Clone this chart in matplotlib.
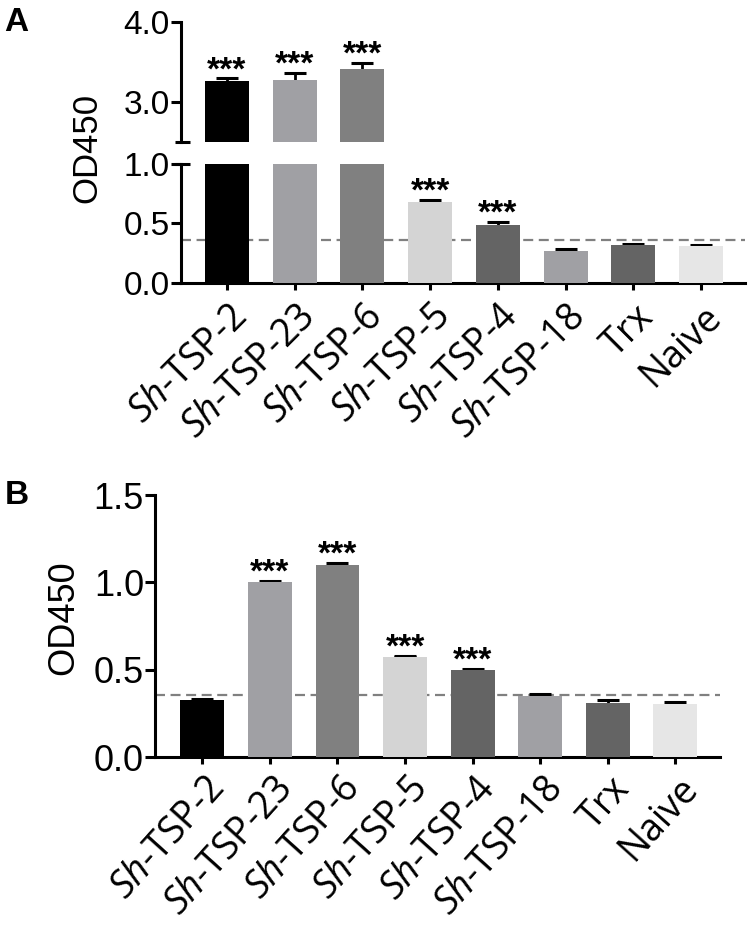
import matplotlib
matplotlib.use('Agg')
import matplotlib.pyplot as plt
from matplotlib.transforms import ScaledTranslation

plt.rcParams['font.family'] = ['Liberation Sans', 'DejaVu Sans']
plt.rcParams['mathtext.fontset'] = 'custom'
plt.rcParams['mathtext.rm'] = 'Open Sans'
plt.rcParams['mathtext.it'] = 'Open Sans:italic'

# data
groups = [r'$\mathit{Sh}$-TSP-2', r'$\mathit{Sh}$-TSP-23', r'$\mathit{Sh}$-TSP-6',
          r'$\mathit{Sh}$-TSP-5', r'$\mathit{Sh}$-TSP-4', r'$\mathit{Sh}$-TSP-18',
          'Trx', 'Naive']
colors = ['#000000', '#a0a0a4', '#808080', '#d4d4d4', '#646464', '#a0a0a4', '#646464', '#e6e6e6']

vals_a = [3.26, 3.27, 3.41, 0.68, 0.49, 0.27, 0.315, 0.31]
errs_a = [0.035, 0.095, 0.08, 0.02, 0.02, 0.012, 0.012, 0.006]
stars_a = ['***', '***', '***', '***', '***', '', '', '']
cutoff_a = 0.36

vals_b = [0.325, 1.0, 1.10, 0.575, 0.50, 0.35, 0.31, 0.305]
errs_b = [0.005, 0.01, 0.012, 0.005, 0.006, 0.008, 0.015, 0.01]
stars_b = ['', '***', '***', '***', '***', '', '', '']
cutoff_b = 0.355

SPW = 2.2
x = list(range(len(groups)))


def style_axis(ax, fs):
    for s in ['top', 'right']:
        ax.spines[s].set_visible(False)
    for s in ['left', 'bottom']:
        ax.spines[s].set_linewidth(SPW)
    ax.tick_params(axis='y', width=SPW, length=7, labelsize=fs, pad=1)
    ax.tick_params(axis='x', width=SPW, length=5, pad=2)


def draw_bars(ax, vals, errs, stars, cutoff, bottom=0):
    ax.axhline(cutoff, color='#808080', lw=1.6, dashes=(4.5, 2.5), zorder=1)
    ax.errorbar(x, vals, yerr=errs, fmt='none', ecolor='black', elinewidth=2,
                capsize=8, capthick=2.2, zorder=2)
    heights = [v - bottom for v in vals]
    ax.bar(x, heights, bottom=bottom, width=0.65, color=colors, zorder=3)
    for i, s in enumerate(stars):
        if s and bottom <= vals[i] + errs[i] <= ax.get_ylim()[1]:
            ax.annotate(s, (i, vals[i] + errs[i]), xytext=(0, -0.5), textcoords='offset points',
                        ha='center', va='baseline', fontsize=24, fontweight='bold', zorder=4)


def set_xlabels(ax, rot, dx, dy):
    ax.set_xticks(x)
    ax.set_xticklabels(groups, rotation=rot, ha='right', rotation_mode='anchor',
                       fontsize=27, family='Open Sans')
    off = ScaledTranslation(dx / 100, dy / 100, fig.dpi_scale_trans)
    for lab in ax.get_xticklabels():
        lab.set_transform(lab.get_transform() + off)


fig = plt.figure(figsize=(7.5, 9.25), dpi=100)

# panel A, broken axis
ax_top = fig.add_axes([0.2413, 0.8465, 0.752, 0.1297])
ax_bot = fig.add_axes([0.2413, 0.6941, 0.752, 0.1286])

ax_top.set_ylim(2.5, 4.0)
ax_top.set_xlim(-0.68, 7.65)
ax_bot.set_ylim(0, 1.0)
ax_bot.set_xlim(-0.68, 7.65)

draw_bars(ax_top, vals_a, errs_a, stars_a, cutoff_a, bottom=2.5)
draw_bars(ax_bot, vals_a, errs_a, stars_a, cutoff_a)

style_axis(ax_top, 24)
style_axis(ax_bot, 24)
ax_top.spines['bottom'].set_visible(False)
ax_top.set_xticks([])
ax_top.set_yticks([3.0, 4.0])
ax_top.set_yticklabels(['3.0', '4.0'])
ax_bot.set_yticks([0.0, 0.5, 1.0])
ax_bot.set_yticklabels(['0.0', '0.5', '1.0'])
set_xlabels(ax_bot, 45, 1, -5)

# break marks on the y axis
ax_top.plot([-0.011, 0.016], [0, 0], transform=ax_top.transAxes, color='black',
            lw=SPW, clip_on=False, solid_capstyle='butt')
ax_bot.plot([-0.011, 0.016], [1, 1], transform=ax_bot.transAxes, color='black',
            lw=SPW, clip_on=False, solid_capstyle='butt')

fig.text(87 / 750, 1 - 148 / 925, 'OD450', rotation=90, ha='center', va='center', fontsize=25)
fig.text(0.006, 0.992, 'A', fontsize=24, fontweight='bold', va='top')

# panel B
ax_b = fig.add_axes([0.2067, 0.1816, 0.7533, 0.2832])
ax_b.set_ylim(0, 1.5)
ax_b.set_xlim(-0.70, 7.66)
draw_bars(ax_b, vals_b, errs_b, stars_b, cutoff_b)
style_axis(ax_b, 26)
ax_b.set_yticks([0.0, 0.5, 1.0, 1.5])
ax_b.set_yticklabels(['0.0', '0.5', '1.0', '1.5'])
set_xlabels(ax_b, 48, 2, -3)

fig.text(64 / 750, 1 - 618 / 925, 'OD450', rotation=90, ha='center', va='center', fontsize=26)
fig.text(0.006, 1 - 480 / 925, 'B', fontsize=24, fontweight='bold', va='top')

fig.savefig('out.png', dpi=100)
